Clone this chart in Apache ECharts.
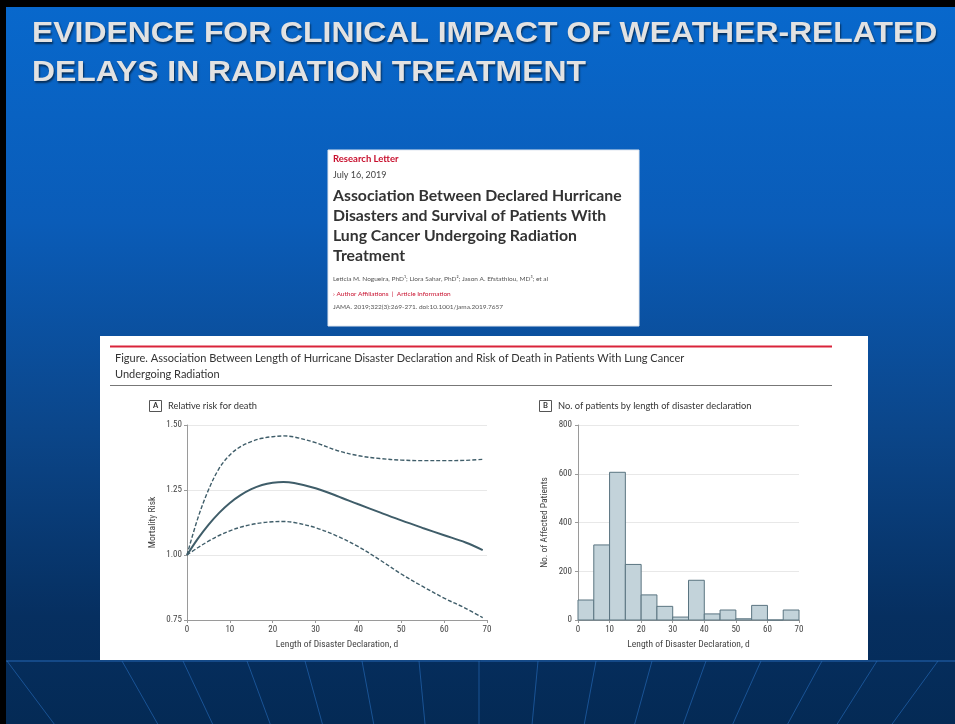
<!DOCTYPE html>
<html>
<head>
<meta charset="utf-8">
<script src="https://cdn.jsdelivr.net/npm/echarts@6/dist/echarts.min.js"></script>
<style>html,body{margin:0;padding:0;background:#000;}#c{width:955px;height:724px;}</style>
</head>
<body>
<div id="c"></div>
<script>
// ---- Panel A data (relative risk curves) ----
var riskDays  = [0, 2.5, 5, 7.5, 10, 12.5, 15, 17.5, 20, 22.5, 25, 30, 35, 40, 45, 50, 55, 60, 65, 69];
var riskMid   = [1.00, 1.062, 1.116, 1.162, 1.200, 1.230, 1.253, 1.269, 1.278, 1.281, 1.277, 1.257, 1.227, 1.195, 1.164, 1.133, 1.104, 1.076, 1.048, 1.019];
var riskUpper = [1.00, 1.140, 1.250, 1.333, 1.385, 1.417, 1.436, 1.449, 1.455, 1.458, 1.454, 1.432, 1.402, 1.382, 1.371, 1.365, 1.363, 1.363, 1.364, 1.368];
var riskLower = [1.00, 1.028, 1.053, 1.075, 1.093, 1.107, 1.117, 1.124, 1.128, 1.129, 1.125, 1.105, 1.073, 1.032, 0.981, 0.927, 0.879, 0.834, 0.795, 0.759];

// ---- Panel B data (histogram, 5-day bins) ----
var binStart = [0, 5, 10, 15, 20, 25, 30, 35, 40, 45, 50, 55, 60, 65];
var binEnd   = [5, 10, 15, 20, 25, 30, 35, 40, 45, 50, 55, 60, 65, 70];
var patients = [82, 308, 606, 228, 103, 56, 12, 163, 25, 41, 5, 60, 0, 41];

// ---- Tick labels ----
var riskTicks = [0.75, 1.00, 1.25, 1.50];
var countTicks = [0, 200, 400, 600, 800];

var TEAL = '#3f5d69';
var NARROW = '"Liberation Sans Narrow", "Roboto Condensed", Roboto, sans-serif';
var LATO = 'Lato, "Open Sans", sans-serif';

function pairs(xs, ys) { return xs.map(function (x, i) { return [x, ys[i]]; }); }
var histData = binStart.map(function (s, i) { return [s, binEnd[i], patients[i]]; });

// perspective floor lines (decoration)
var floorTops = [7, 122, 183, 247, 305, 362, 419, 479, 538, 596, 652, 706, 761, 822, 877, 938];
var floorLines = floorTops.map(function (x0) {
  var x1 = 479 + (x0 - 479) * 0.9;
  return { type: 'line', z: -8, shape: { x1: x0, y1: 661, x2: x1, y2: 724 },
    style: { stroke: 'rgba(40,110,190,0.6)', lineWidth: 1 } };
});

var chart = echarts.init(document.getElementById('c'), null, { renderer: 'canvas' });

var titleStyle = {
  font: 'bold 30px "Liberation Sans", Arial, sans-serif', fill: '#e2e2e2', verticalAlign: 'middle',
  textShadowColor: 'rgba(0,0,0,0.55)', textShadowBlur: 2, textShadowOffsetX: 1, textShadowOffsetY: 2
};

var graphics = [
  // slide background
  { type: 'rect', z: -10, shape: { x: 6, y: 7, width: 949, height: 717 },
    style: { fill: new echarts.graphic.LinearGradient(0, 0, 0, 1, [
      { offset: 0, color: '#0868cc' },
      { offset: 0.3, color: '#0a5cb8' },
      { offset: 0.6, color: '#0b4588' },
      { offset: 0.85, color: '#062f60' },
      { offset: 1, color: '#042a55' }]) } },
  { type: 'line', z: -8, shape: { x1: 6, y1: 661, x2: 955, y2: 661 },
    style: { stroke: 'rgba(40,110,190,0.9)', lineWidth: 1 } },
  // title
  { type: 'text', z: -6, x: 32, y: 33.5, scaleX: 1.063,
    style: Object.assign({ text: 'EVIDENCE FOR CLINICAL IMPACT OF WEATHER-RELATED' }, titleStyle) },
  { type: 'text', z: -6, x: 32, y: 72.5, scaleX: 1.063,
    style: Object.assign({ text: 'DELAYS IN RADIATION TREATMENT' }, titleStyle) },
  // article box
  { type: 'rect', z: -6, shape: { x: 328, y: 150, width: 311, height: 176 },
    style: { fill: '#ffffff', stroke: '#dfe6ef', lineWidth: 1 } },
  { type: 'text', z: -5, x: 333, y: 159, style: { text: 'Research Letter', font: 'bold 9.5px ' + LATO, fill: '#c8102e', verticalAlign: 'middle' } },
  { type: 'text', z: -5, x: 333, y: 175, style: { text: 'July 16, 2019', font: '9px ' + LATO, fill: '#444', verticalAlign: 'middle' } },
  { type: 'text', z: -5, x: 333, y: 196, style: { text: 'Association Between Declared Hurricane', font: 'bold 15.8px ' + LATO, fill: '#333', verticalAlign: 'middle' } },
  { type: 'text', z: -5, x: 333, y: 216, style: { text: 'Disasters and Survival of Patients With', font: 'bold 15.8px ' + LATO, fill: '#333', verticalAlign: 'middle' } },
  { type: 'text', z: -5, x: 333, y: 236, style: { text: 'Lung Cancer Undergoing Radiation', font: 'bold 15.8px ' + LATO, fill: '#333', verticalAlign: 'middle' } },
  { type: 'text', z: -5, x: 333, y: 256, style: { text: 'Treatment', font: 'bold 15.8px ' + LATO, fill: '#333', verticalAlign: 'middle' } },
  { type: 'text', z: -5, x: 333, y: 279, style: { text: 'Leticia M. Nogueira, PhD\u00b9; Liora Sahar, PhD\u00b2; Jason A. Efstathiou, MD\u00b3; et al', font: '6.5px ' + LATO, fill: '#555', verticalAlign: 'middle' } },
  { type: 'text', z: -5, x: 333, y: 294, style: { text: '\u203a Author Affiliations  |  Article Information', font: '6.5px ' + LATO, fill: '#c8102e', verticalAlign: 'middle' } },
  { type: 'text', z: -5, x: 333, y: 307, style: { text: 'JAMA. 2019;322(3):269-271. doi:10.1001/jama.2019.7657', font: '6.5px ' + LATO, fill: '#555', verticalAlign: 'middle' } },
  // figure box
  { type: 'rect', z: -6, shape: { x: 100, y: 336, width: 768, height: 324 }, style: { fill: '#ffffff' } },
  { type: 'line', z: -5, shape: { x1: 110, y1: 346.5, x2: 832, y2: 346.5 }, style: { stroke: '#d9243b', lineWidth: 2 } },
  { type: 'line', z: -5, shape: { x1: 110, y1: 385.5, x2: 832, y2: 385.5 }, style: { stroke: '#777', lineWidth: 1 } },
  { type: 'text', z: -5, x: 115, y: 358, style: { text: 'Figure. Association Between Length of Hurricane Disaster Declaration and Risk of Death in Patients With Lung Cancer', font: '11px ' + LATO, fill: '#333', verticalAlign: 'middle' } },
  { type: 'text', z: -5, x: 115, y: 374, style: { text: 'Undergoing Radiation', font: '11px ' + LATO, fill: '#333', verticalAlign: 'middle' } },
  // panel headers
  { type: 'rect', z: -5, shape: { x: 149.5, y: 400.5, width: 12, height: 11 }, style: { fill: '#fff', stroke: '#555', lineWidth: 1 } },
  { type: 'text', z: -4, x: 155.5, y: 406, style: { text: 'A', font: 'bold 7.5px ' + LATO, fill: '#333', align: 'center', verticalAlign: 'middle' } },
  { type: 'text', z: -4, x: 168, y: 406, style: { text: 'Relative risk for death', font: '9.3px ' + LATO, fill: '#333', verticalAlign: 'middle' } },
  { type: 'rect', z: -5, shape: { x: 539.5, y: 400.5, width: 12, height: 11 }, style: { fill: '#fff', stroke: '#555', lineWidth: 1 } },
  { type: 'text', z: -4, x: 545.5, y: 406, style: { text: 'B', font: 'bold 7.5px ' + LATO, fill: '#333', align: 'center', verticalAlign: 'middle' } },
  { type: 'text', z: -4, x: 558, y: 406, style: { text: 'No. of patients by length of disaster declaration', font: '9.3px ' + LATO, fill: '#333', verticalAlign: 'middle' } }
].concat(floorLines);

var axisCommon = {
  axisLine: { lineStyle: { color: '#9a9a9a', width: 1 } },
  axisTick: { show: true, length: 3, lineStyle: { color: '#9a9a9a' } },
  axisLabel: { color: '#444', fontSize: 9, fontFamily: NARROW },
  nameTextStyle: { color: '#444', fontSize: 9.5, fontFamily: NARROW }
};

var option = {
  animation: false,
  graphic: { elements: graphics },
  grid: [
    { left: 187, right: 468, top: 425, bottom: 104 },
    { left: 578, right: 156, top: 425, bottom: 104 }
  ],
  xAxis: [
    Object.assign({}, axisCommon, {
      gridIndex: 0, type: 'value', min: 0, max: 70, interval: 10,
      name: 'Length of Disaster Declaration, d', nameLocation: 'middle', nameGap: 20,
      splitLine: { show: false },
      axisLabel: Object.assign({}, axisCommon.axisLabel, { margin: 5 })
    }),
    Object.assign({}, axisCommon, {
      gridIndex: 1, type: 'value', min: 0, max: 70, interval: 10,
      name: 'Length of Disaster Declaration, d', nameLocation: 'middle', nameGap: 20,
      splitLine: { show: false },
      axisLabel: Object.assign({}, axisCommon.axisLabel, { margin: 5 })
    })
  ],
  yAxis: [
    Object.assign({}, axisCommon, {
      gridIndex: 0, type: 'value', min: riskTicks[0], max: riskTicks[riskTicks.length - 1], interval: 0.25,
      name: 'Mortality Risk', nameLocation: 'middle', nameGap: 29,
      splitLine: { show: true, lineStyle: { color: '#e8e8e8', width: 1 } },
      axisLabel: Object.assign({}, axisCommon.axisLabel, { margin: 5, formatter: function (v) { return v.toFixed(2); } })
    }),
    Object.assign({}, axisCommon, {
      gridIndex: 1, type: 'value', min: countTicks[0], max: countTicks[countTicks.length - 1], interval: 200,
      name: 'No. of Affected Patients', nameLocation: 'middle', nameGap: 28,
      splitLine: { show: true, lineStyle: { color: '#e8e8e8', width: 1 } },
      axisLabel: Object.assign({}, axisCommon.axisLabel, { margin: 6 })
    })
  ],
  series: [
    { type: 'line', xAxisIndex: 0, yAxisIndex: 0, data: pairs(riskDays, riskUpper), smooth: 0.35, showSymbol: false,
      lineStyle: { color: TEAL, width: 1.4, type: [4, 2] } },
    { type: 'line', xAxisIndex: 0, yAxisIndex: 0, data: pairs(riskDays, riskMid), smooth: 0.35, showSymbol: false,
      lineStyle: { color: TEAL, width: 2 } },
    { type: 'line', xAxisIndex: 0, yAxisIndex: 0, data: pairs(riskDays, riskLower), smooth: 0.35, showSymbol: false,
      lineStyle: { color: TEAL, width: 1.4, type: [4, 2] } },
    { type: 'custom', xAxisIndex: 1, yAxisIndex: 1, data: histData,
      encode: { x: [0, 1], y: 2 },
      renderItem: function (params, api) {
        var p0 = api.coord([api.value(0), 0]);
        var p1 = api.coord([api.value(1), api.value(2)]);
        return { type: 'rect', shape: { x: p0[0], y: p1[1], width: p1[0] - p0[0], height: p0[1] - p1[1] },
          style: { fill: '#c3d3da', stroke: '#5a7480', lineWidth: 1 } };
      } }
  ]
};
chart.setOption(option);
</script>
</body>
</html>
